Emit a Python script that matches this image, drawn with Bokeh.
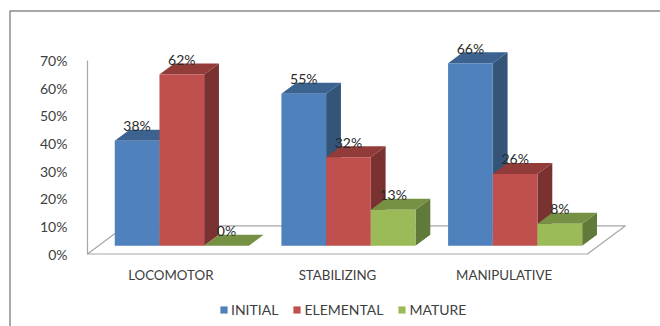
from bokeh.plotting import figure
from bokeh.models import ColumnDataSource, FixedTicker, Legend, LegendItem, Range1d, LinearAxis
from bokeh.core.properties import value
from bokeh.embed import file_html
from bokeh.resources import INLINE

# Chart values
categories = ["LOCOMOTOR", "STABILIZING", "MANIPULATIVE"]
series_names = ["INITIAL", "ELEMENTAL", "MATURE"]
initial = [38, 55, 66]
elemental = [62, 32, 26]
mature = [0, 13, 8]
y_ticks = [0, 10, 20, 30, 40, 50, 60, 70]

# Face colours per series: front, top, side
front_colors = ["#4f81bd", "#c0504d", "#9bbb59"]
top_colors = ["#3c6290", "#923c3a", "#769044"]
side_colors = ["#345478", "#7a3230", "#627a39"]

TEXT = "#404040"
VALUE_TEXT = "#2b2b2b"
FONT = "Lato"

W, H = 660, 326
PX_X = 500 / 3     # pixels per category
PX_Y = 193.5 / 70  # pixels per percentage point
X0_PX = 170.3      # pixel of the first category centre
Y0_PX = 253.5      # pixel of 0%

# Oblique projection of the 3D box, in data units
bar_w = 44.7 / PX_X
bar_shift = 11.0 / PX_X   # group centre relative to the category label
depth_x = 14.8 / PX_X
depth_y = 11.0 / PX_Y
base_y = 8.2 / PX_Y       # front of the bars above the front floor edge
floor_x = 38.0 / PX_X
floor_y = 28.2 / PX_Y

p = figure(
    width=W, height=H, output_backend="svg", toolbar_location=None,
    x_range=Range1d(-X0_PX / PX_X, (W - X0_PX) / PX_X),
    y_range=Range1d(-(H - Y0_PX) / PX_Y, Y0_PX / PX_Y),
    min_border=0, x_axis_type=None, y_axis_type=None,
)
p.grid.visible = False
p.outline_line_color = None
p.background_fill_color = "white"
p.border_fill_color = "white"

px_x = lambda px: (px - X0_PX) / PX_X
px_y = lambda px: (Y0_PX - px) / PX_Y

# Outer chart border
p.line([px_x(9.5), px_x(9.5), px_x(660)], [px_y(326), px_y(10.5), px_y(10.5)],
       line_color="#8c8c8c", line_width=1.5)

# Floor of the 3D plot and the back wall edge
left, right = -0.5, 2.5
p.line([left + floor_x, left, right, right + floor_x, left + floor_x],
       [floor_y, 0, 0, floor_y, floor_y], line_color="#a6a6a6", line_width=1.2)

# Vertical axis with percentage labels, pinned at the left edge of the floor
y_axis = LinearAxis(
    fixed_location=left, bounds=(0, 70),
    ticker=FixedTicker(ticks=y_ticks),
    major_label_overrides={t: f"{t}%" for t in y_ticks},
    major_tick_line_color=None, minor_tick_line_color=None,
    axis_line_color="#a6a6a6", axis_line_width=1.2,
    major_label_text_color=TEXT, major_label_text_font=FONT,
    major_label_text_font_size="14px", major_label_standoff=14,
)
p.add_layout(y_axis, "left")

# Category labels below the floor
x_axis = LinearAxis(
    fixed_location=0,
    ticker=FixedTicker(ticks=list(range(len(categories)))),
    major_label_overrides={i: c for i, c in enumerate(categories)},
    major_tick_line_color=None, minor_tick_line_color=None,
    axis_line_color=None,
    major_label_text_color=TEXT, major_label_text_font=FONT,
    major_label_text_font_size="13.3px", major_label_standoff=7,
)
p.add_layout(x_axis, "below")

# Boxes are drawn left to right so nearer faces cover earlier ones
series = [initial, elemental, mature]
legend_items = []
for i in range(len(categories)):
    for s, vals in enumerate(series):
        v = vals[i]
        x_l = i + bar_shift + (s - 1.5) * bar_w
        x_r = x_l + bar_w
        top = base_y + v
        p.patch([x_r, x_r + depth_x, x_r + depth_x, x_r],
                [base_y, base_y + depth_y, top + depth_y, top],
                fill_color=side_colors[s], line_color=None)
        p.patch([x_l, x_r, x_r + depth_x, x_l + depth_x],
                [top, top, top + depth_y, top + depth_y],
                fill_color=top_colors[s], line_color=None)
        src = ColumnDataSource(dict(x=[(x_l + x_r) / 2], v=[top]))
        bar = p.vbar(x="x", top="v", bottom=base_y, width=bar_w, source=src,
                     fill_color=front_colors[s], line_color=None)
        if i == 0:
            legend_items.append(LegendItem(label=value(series_names[s]), renderers=[bar]))

# Value labels above each front face
for i in range(len(categories)):
    for s, vals in enumerate(series):
        v = vals[i]
        xc = i + bar_shift + (s - 1) * bar_w
        p.text([xc], [base_y + v], text=[f"{v}%"], text_align="center",
               text_baseline="middle", y_offset=-15, text_color=VALUE_TEXT,
               text_font=value(FONT), text_font_size="14px")

legend = Legend(
    items=legend_items, orientation="horizontal", location=(219, 8),
    background_fill_alpha=0, border_line_color=None,
    glyph_width=9, glyph_height=9, label_text_font=FONT,
    label_text_font_size="14px", label_text_color=TEXT,
    spacing=14, margin=0, padding=0, label_standoff=3,
)
p.add_layout(legend, "center")

open("out.html", "w").write(file_html(p, INLINE))
